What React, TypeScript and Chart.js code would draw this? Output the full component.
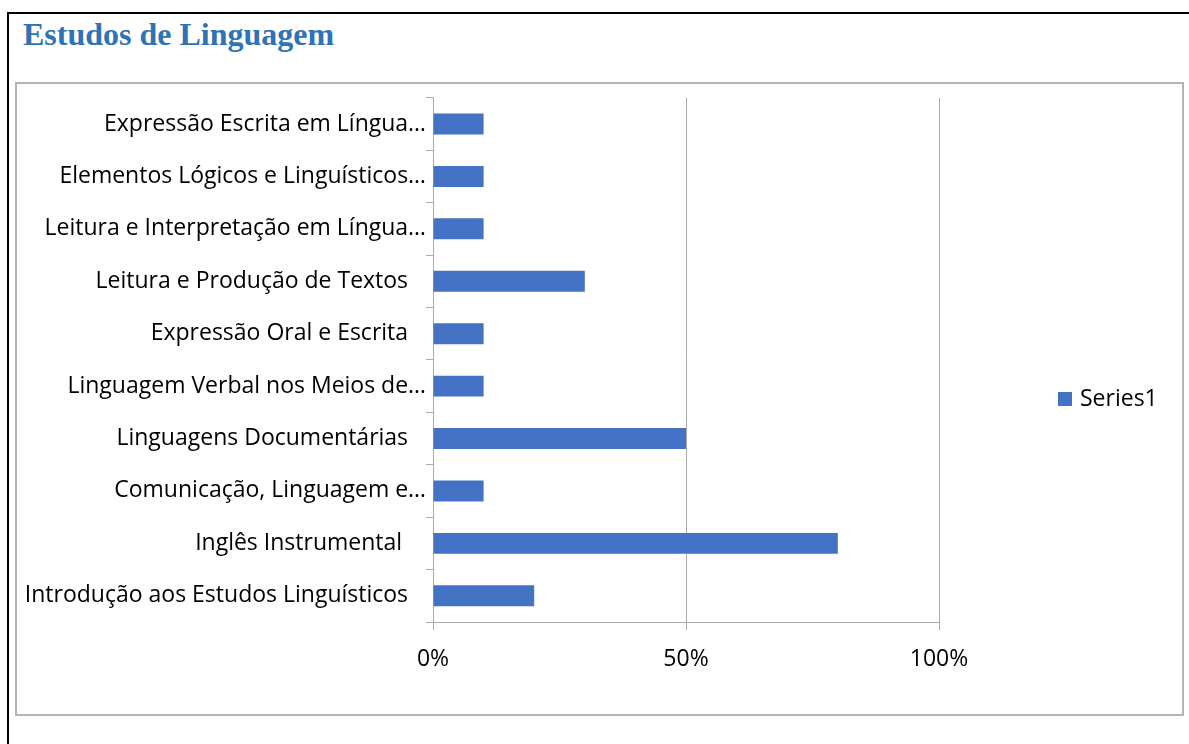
import React, { useEffect, useRef } from 'react';
import { Chart, registerables } from 'chart.js';

Chart.register(...registerables);

const chartTitle = 'Estudos de Linguagem';
const categories = [
  'Expressão Escrita em Língua…',
  'Elementos Lógicos e Linguísticos…',
  'Leitura e Interpretação em Língua…',
  'Leitura e Produção de Textos',
  'Expressão Oral e Escrita',
  'Linguagem Verbal nos Meios de…',
  'Linguagens Documentárias',
  'Comunicação, Linguagem e…',
  'Inglês Instrumental ',
  'Introdução aos Estudos Linguísticos',
];
const series1 = [0.1, 0.1, 0.1, 0.3, 0.1, 0.1, 0.5, 0.1, 0.8, 0.2];
const seriesName = 'Series1';
const xTickValues = [0, 0.5, 1];

const FONT = '"Open Sans", sans-serif';
const FONT_SIZE = 23;
const BAR_COLOR = '#4472C4';
const GRID = '#ababab';

const CANVAS_W = 1165;
const CANVAS_H = 630;

const sideLegend = {
  id: 'sideLegend',
  afterDraw(chart: any) {
    const ctx = chart.ctx;
    const ds = chart.data.datasets[0];
    const x = chart.chartArea.right + 119;
    const cy = chart.height / 2;
    ctx.save();
    ctx.fillStyle = ds.backgroundColor;
    ctx.fillRect(x, cy - 7, 14, 14);
    ctx.fillStyle = '#000';
    ctx.font = `${FONT_SIZE}px ${FONT}`;
    ctx.textAlign = 'left';
    ctx.textBaseline = 'middle';
    ctx.fillText(ds.label, x + 22, cy);
    ctx.restore();
  },
};

export default function App() {
  const ref = useRef<HTMLCanvasElement>(null);

  useEffect(() => {
    if (!ref.current) return;
    const chart = new Chart(ref.current, {
      type: 'bar',
      data: {
        labels: categories,
        datasets: [
          {
            label: seriesName,
            data: series1,
            backgroundColor: BAR_COLOR,
            categoryPercentage: 0.4,
            barPercentage: 1,
          },
        ],
      },
      options: {
        indexAxis: 'y',
        responsive: false,
        animation: false,
        devicePixelRatio: 1,
        layout: { padding: { left: 0, right: CANVAS_W - 922, top: 11, bottom: 0 } },
        plugins: {
          legend: { display: false },
          tooltip: { enabled: false },
          title: { display: false },
        },
        scales: {
          x: {
            type: 'linear',
            min: 0,
            max: 1,
            afterBuildTicks: (s: any) => {
              s.ticks = xTickValues.map((v) => ({ value: v }));
            },
            afterFit: (s: any) => {
              s.height = CANVAS_H - 538;
            },
            ticks: {
              color: '#000',
              font: { family: FONT, size: FONT_SIZE },
              padding: 16,
              maxRotation: 0,
              callback: (v: any) => `${Math.round(Number(v) * 100)}%`,
            },
            grid: {
              color: GRID,
              lineWidth: 1,
              tickLength: 8,
              drawOnChartArea: true,
            },
            border: { color: GRID, width: 1 },
          },
          y: {
            type: 'category',
            afterFit: (s: any) => {
              s.width = 416;
            },
            ticks: {
              color: '#000',
              font: { family: FONT, size: FONT_SIZE },
              padding: 0,
              autoSkip: false,
              callback: (_v: any, i: number) => {
                const l = categories[i];
                return l.endsWith('…') ? l : l + '   ';
              },
            },
            grid: {
              color: GRID,
              lineWidth: 1,
              tickLength: 7,
              drawOnChartArea: false,
              offset: true,
            },
            border: { color: GRID, width: 1 },
          },
        },
      },
      plugins: [sideLegend],
    });
    return () => chart.destroy();
  }, []);

  return (
    <div>
      <div
        style={{
          position: 'absolute',
          left: 7,
          top: 12,
          width: 1182,
          height: 732,
          borderLeft: '2px solid #000',
          borderTop: '2px solid #000',
          boxSizing: 'border-box',
        }}
      />
      <div
        style={{
          position: 'absolute',
          left: 23,
          top: 18,
          font: 'bold 32px "Liberation Serif", serif',
          lineHeight: '32px',
          color: '#2E74B5',
          whiteSpace: 'nowrap',
        }}
      >
        {chartTitle}
      </div>
      <div
        style={{
          position: 'absolute',
          left: 15,
          top: 82,
          width: CANVAS_W + 4,
          height: CANVAS_H + 4,
          border: '2px solid #b4b4b4',
          boxSizing: 'border-box',
        }}
      />
      <canvas
        ref={ref}
        width={CANVAS_W}
        height={CANVAS_H}
        style={{ position: 'absolute', left: 17, top: 84, width: CANVAS_W, height: CANVAS_H }}
      />
    </div>
  );
}
